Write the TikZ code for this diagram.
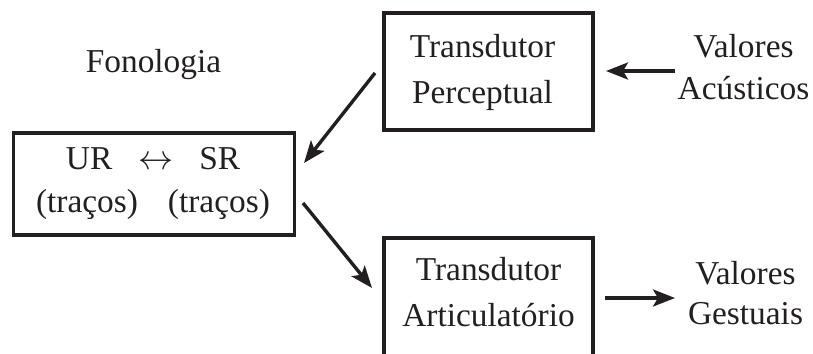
\documentclass[tikz,border=0pt]{standalone}
\usepackage{fontspec}
\usepackage{graphicx}
\setmainfont{Liberation Serif}
\usetikzlibrary{arrows.meta}
\definecolor{ink}{HTML}{231F20}
\begin{document}
\begin{tikzpicture}[x=1bp,y=-1bp,
  box/.style={draw=ink, line width=3.2bp, inner sep=0pt},
  lbl/.style={text=ink, align=center, inner sep=0pt, font=\fontsize{33.5}{43}\selectfont},
  wide/.style={font=\fontsize{33.5}{46.5}\selectfont},
  conn/.style={draw=ink, line width=3.4bp, -{Stealth[length=22bp,width=17bp,inset=5bp]}}]
\useasboundingbox (0,0) rectangle (813,353);
\clip (0,0) rectangle (813,353);
% boxes
\node[box, minimum width=209bp, minimum height=117bp] (perc) at (488.5,71.5) {};
\node[box, minimum width=281bp, minimum height=102bp] (fon) at (154,184) {};
\node[box, minimum width=209bp, minimum height=142bp] (art) at (488.5,309) {};
% texts
\node[lbl, wide] (perct) at (482.5,72.2) {Transdutor\\Perceptual};
\node[lbl, wide] (artt) at (488.5,292) {Transdutor\\Articulatório};
\node[lbl] (fonol) at (153.5,72) [anchor=base] {Fonologia};
\node[lbl] (urt) at (153,183.7) {UR\hspace{26bp}\resizebox{35bp}{!}{$\leftrightarrow$}\hspace{26bp}SR\\(traços)\hspace{30bp}(traços)};
\node[lbl] (acu) at (743.5,67) {Valores\\Acústicos};
\node[lbl, font=\fontsize{33.5}{40}\selectfont] (ges) at (745.5,293.5) {Valores\\Gestuais};
% connector ends
\coordinate (a1) at (675,71);
\coordinate (a2) at (606,71);
\coordinate (b1) at (375,73);
\coordinate (b2) at (304,163);
\coordinate (c1) at (303,203);
\coordinate (c2) at (372,288);
\coordinate (d1) at (605,298);
\coordinate (d2) at (675,298);
\draw[conn] (a1) -- (a2);
\draw[conn] (b1) -- (b2);
\draw[conn] (c1) -- (c2);
\draw[conn] (d1) -- (d2);
\end{tikzpicture}
\end{document}
